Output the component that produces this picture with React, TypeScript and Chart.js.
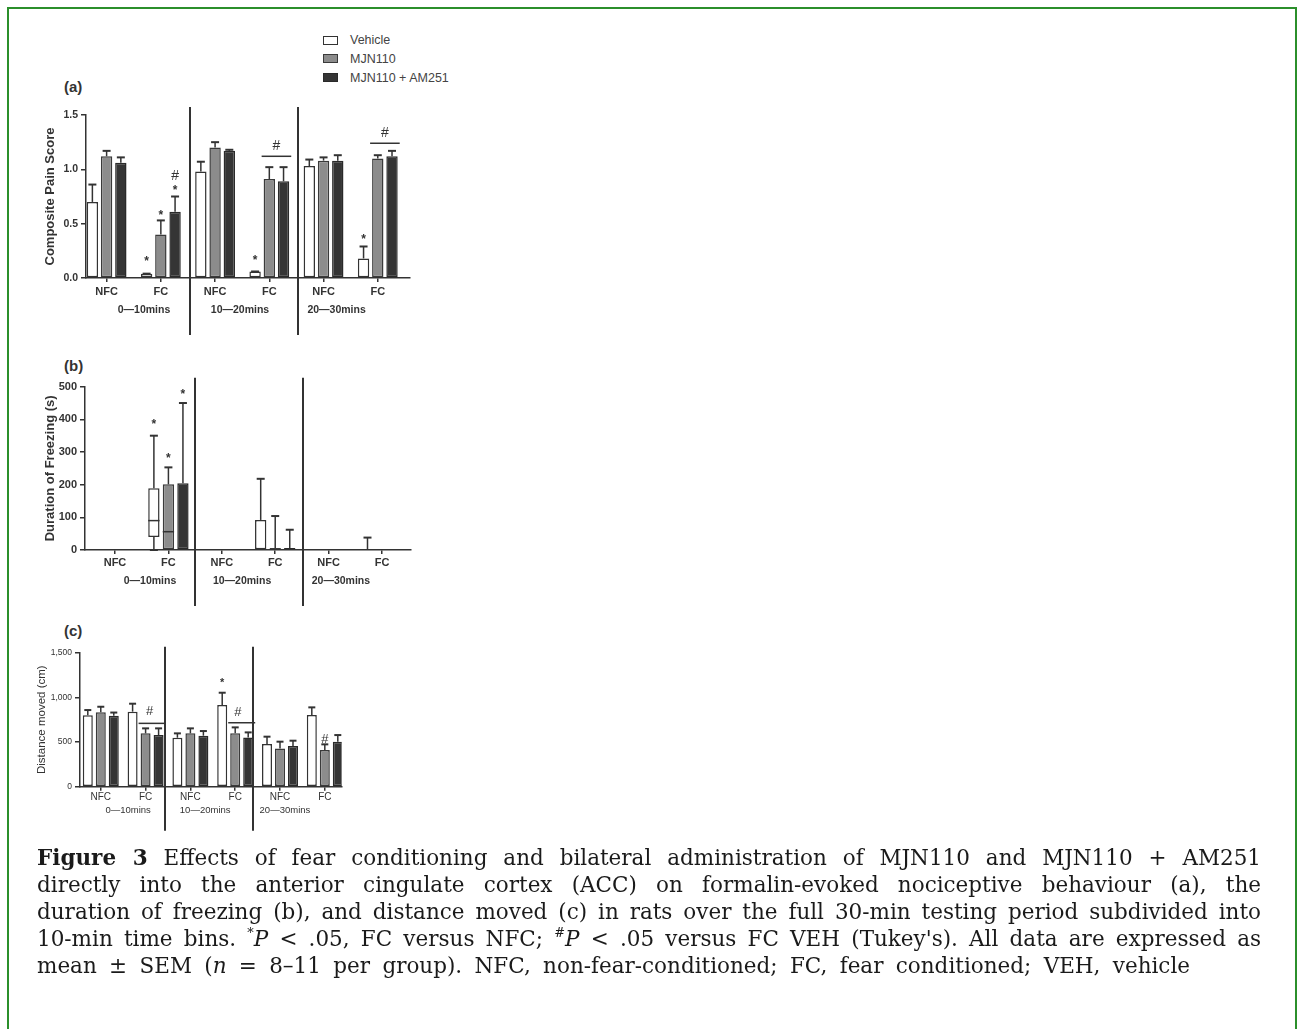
import React, { useEffect, useRef } from "react";
import { Chart, registerables } from "chart.js";

Chart.register(...registerables);

const FONT = "'Liberation Sans', Arial, Helvetica, sans-serif";
const INK = "#333333";
Chart.defaults.font.family = FONT;
Chart.defaults.color = INK;

// ---------------- data ----------------
const groupLabels = ["NFC", "FC", "NFC", "FC", "NFC", "FC"];
const timeBins = ["0\u201410mins", "10\u201420mins", "20\u201430mins"];
const seriesNames = ["Vehicle", "MJN110", "MJN110 + AM251"];
const seriesFill = ["#ffffff", "#8c8c8c", "#353535"];
const seriesBorder = ["#333333", "#3a3a3a", "#2a2a2a"];

// (a) Composite pain score, mean and SEM
const painVehicle = [0.7, 0.04, 0.98, 0.06, 1.03, 0.18];
const painVehicleSem = [0.16, 0, 0.09, 0, 0.06, 0.11];
const painMJN = [1.12, 0.4, 1.2, 0.91, 1.08, 1.1];
const painMJNSem = [0.05, 0.13, 0.05, 0.11, 0.03, 0.03];
const painAM = [1.06, 0.61, 1.17, 0.89, 1.08, 1.12];
const painAMSem = [0.05, 0.14, 0.01, 0.13, 0.05, 0.05];

// (b) Duration of freezing (s): box low / median / box high / whisker max / whisker min
const freezeVehLow = [null, 40, null, 0, null, null];
const freezeVehMed = [null, 90, null, null, null, null];
const freezeVehHigh = [null, 189, null, 92, null, null];
const freezeVehMax = [null, 350, null, 218, null, 38];
const freezeVehMin = [null, 0, null, null, null, null];
const freezeMJNLow = [null, 0, null, 0, null, null];
const freezeMJNMed = [null, 56, null, null, null, null];
const freezeMJNHigh = [null, 201, null, 6, null, null];
const freezeMJNMax = [null, 253, null, 104, null, null];
const freezeAMLow = [null, 0, null, 0, null, null];
const freezeAMHigh = [null, 204, null, 6, null, null];
const freezeAMMax = [null, 450, null, 62, null, null];

// (c) Distance moved (cm), mean and SEM
const distVehicle = [800, 840, 548, 914, 478, 802];
const distVehicleSem = [58, 89, 49, 138, 82, 86];
const distMJN = [832, 597, 597, 597, 429, 410];
const distMJNSem = [63, 56, 56, 67, 75, 64];
const distAM = [795, 578, 571, 552, 455, 504];
const distAMSem = [35, 75, 52, 56, 60, 74];

// significance marks: series (fractional = between bars), group, value, text
const painMarks = [
  { s: 0, g: 1, y: 0.17, t: "*" },
  { s: 1, g: 1, y: 0.6, t: "*" },
  { s: 2, g: 1, y: 0.83, t: "*" },
  { s: 2, g: 1, y: 0.94, t: "#" },
  { s: 0, g: 3, y: 0.18, t: "*" },
  { s: 1.5, g: 3, y: 1.21, t: "#" },
  { s: 0, g: 5, y: 0.38, t: "*" },
  { s: 1.5, g: 5, y: 1.33, t: "#" },
];
const painLines = [
  { g: 3, y: 1.12 },
  { g: 5, y: 1.24 },
];
const freezeMarks = [
  { s: 0, g: 1, y: 393, t: "*" },
  { s: 1, g: 1, y: 288, t: "*" },
  { s: 2, g: 1, y: 485, t: "*" },
];
const distMarks = [
  { s: 1.3, g: 1, y: 840, t: "#" },
  { s: 0, g: 3, y: 1183, t: "*" },
  { s: 1.2, g: 3, y: 832, t: "#" },
  { s: 1, g: 5, y: 534, t: "#" },
];
const distLines = [
  { g: 1, y: 709 },
  { g: 3, y: 716 },
];

// ---------------- helpers ----------------
type Pair = [number, number] | null;
const errPairs = (m: (number | null)[], e: (number | null)[]): Pair[] =>
  m.map((v, i) => (v == null || e[i] == null ? null : [v, v + (e[i] as number)]));
const boxPairs = (lo: (number | null)[], hi: (number | null)[]) =>
  lo.map((v, i) => (v == null || hi[i] == null ? null : [v, hi[i]]));
const upperWhisk = (hi: (number | null)[], mx: (number | null)[]): Pair[] =>
  mx.map((v, i) => (v == null ? null : [hi[i] == null ? 0 : (hi[i] as number), v]));
const lowerWhisk = (lo: (number | null)[], mn: (number | null)[]): Pair[] =>
  mn.map((v, i) => (v == null || lo[i] == null || (lo[i] as number) <= v ? null : [lo[i] as number, v]));

interface PanelSpec {
  key: string;
  canvasTop: number;
  canvasHeight: number;
  canvasWidth: number;
  area: { left: number; right: number; top: number; bottom: number };
  axisBoxLeft: number;
  xRange: [number, number];
  yRange: [number, number];
  yStep: number;
  yFormat: (v: number) => string;
  yTitle: string;
  yTitleFont: any;
  yTickFont: any;
  xTickFont: any;
  timeFont: any;
  xAxisHeight: number;
  xTickPad: number;
  catPct: number;
  barPct: number;
  values: any[][];
  whiskers: { s: number; list: Pair[] }[];
  medians: (number | null)[][];
  dividers: number[];
  dividerTop: number;
  dividerBottom: number;
  timeX: number[];
  timeDy: number;
  marks: { s: number; g: number; y: number; t: string }[];
  lines: { g: number; y: number }[];
  starSize: number;
  hashSize: number;
  capHalf: number;
}

const panelA: PanelSpec = {
  key: "a",
  canvasTop: 25,
  canvasHeight: 320,
  canvasWidth: 470,
  area: { left: 86, right: 410, top: 115, bottom: 278 },
  axisBoxLeft: 42.5,
  xRange: [-0.38, 5.594],
  yRange: [0, 1.5],
  yStep: 0.5,
  yFormat: (v) => Number(v).toFixed(1),
  yTitle: "Composite Pain Score",
  yTitleFont: { size: 13, weight: "bold" },
  yTickFont: { size: 10.5, weight: "bold" },
  xTickFont: { size: 11, weight: "bold" },
  timeFont: { size: 10.5, weight: "bold" },
  xAxisHeight: 40,
  xTickPad: 3,
  catPct: 0.787,
  barPct: 0.8,
  values: [painVehicle, painMJN, painAM],
  whiskers: [
    { s: 0, list: errPairs(painVehicle, painVehicleSem) },
    { s: 1, list: errPairs(painMJN, painMJNSem) },
    { s: 2, list: errPairs(painAM, painAMSem) },
  ],
  medians: [],
  dividers: [1.53, 3.53],
  dividerTop: -8,
  dividerBottom: 57,
  timeX: [0.69, 2.46, 4.24],
  timeDy: 32,
  marks: painMarks,
  lines: painLines,
  starSize: 12,
  hashSize: 14,
  capHalf: 4,
};

const panelB: PanelSpec = {
  key: "b",
  canvasTop: 345,
  canvasHeight: 270,
  canvasWidth: 470,
  area: { left: 85, right: 410.7, top: 386.7, bottom: 550 },
  axisBoxLeft: 42.5,
  xRange: [-0.562, 5.537],
  yRange: [0, 500],
  yStep: 100,
  yFormat: (v) => String(v),
  yTitle: "Duration of Freezing (s)",
  yTitleFont: { size: 13, weight: "bold" },
  yTickFont: { size: 11, weight: "bold" },
  xTickFont: { size: 11, weight: "bold" },
  timeFont: { size: 10.5, weight: "bold" },
  xAxisHeight: 40,
  xTickPad: 2,
  catPct: 0.816,
  barPct: 0.78,
  values: [
    boxPairs(freezeVehLow, freezeVehHigh),
    boxPairs(freezeMJNLow, freezeMJNHigh),
    boxPairs(freezeAMLow, freezeAMHigh),
  ],
  whiskers: [
    { s: 0, list: upperWhisk(freezeVehHigh, freezeVehMax) },
    { s: 1, list: upperWhisk(freezeMJNHigh, freezeMJNMax) },
    { s: 2, list: upperWhisk(freezeAMHigh, freezeAMMax) },
    { s: 0, list: lowerWhisk(freezeVehLow, freezeVehMin) },
  ],
  medians: [freezeVehMed, freezeMJNMed],
  dividers: [1.5, 3.52],
  dividerTop: -9,
  dividerBottom: 56,
  timeX: [0.655, 2.38, 4.23],
  timeDy: 31,
  marks: freezeMarks,
  lines: [],
  starSize: 12,
  hashSize: 14,
  capHalf: 4,
};

const panelC: PanelSpec = {
  key: "c",
  canvasTop: 615,
  canvasHeight: 230,
  canvasWidth: 470,
  area: { left: 80, right: 341.7, top: 652.7, bottom: 786.7 },
  axisBoxLeft: 35.2,
  xRange: [-0.464, 5.377],
  yRange: [0, 1500],
  yStep: 500,
  yFormat: (v) => Number(v).toLocaleString("en-US"),
  yTitle: "Distance moved (cm)",
  yTitleFont: { size: 11.5, weight: "normal" },
  yTickFont: { size: 8.5, weight: "normal" },
  xTickFont: { size: 10, weight: "normal" },
  timeFont: { size: 9.5, weight: "normal" },
  xAxisHeight: 30,
  xTickPad: 1,
  catPct: 0.87,
  barPct: 0.77,
  values: [distVehicle, distMJN, distAM],
  whiskers: [
    { s: 0, list: errPairs(distVehicle, distVehicleSem) },
    { s: 1, list: errPairs(distMJN, distMJNSem) },
    { s: 2, list: errPairs(distAM, distAMSem) },
  ],
  medians: [],
  dividers: [1.433, 3.404],
  dividerTop: -6,
  dividerBottom: 44,
  timeX: [0.61, 2.33, 4.11],
  timeDy: 24,
  marks: distMarks,
  lines: distLines,
  starSize: 11,
  hashSize: 13,
  capHalf: 3.5,
};

function makePlugin(spec: PanelSpec) {
  return {
    id: "annot_" + spec.key,
    afterDatasetsDraw(chart: any) {
      const { ctx, chartArea: a } = chart;
      const xs = chart.scales.x;
      const ys = chart.scales.y;
      const el = (s: number, g: number) => chart.getDatasetMeta(s).data[g];
      const seg = (x1: number, y1: number, x2: number, y2: number) => {
        ctx.beginPath();
        ctx.moveTo(x1, y1);
        ctx.lineTo(x2, y2);
        ctx.stroke();
      };
      ctx.save();
      ctx.strokeStyle = INK;
      ctx.fillStyle = INK;
      // whiskers / error bars
      spec.whiskers.forEach(({ s, list }) => {
        list.forEach((w, g) => {
          if (!w) return;
          const x = el(s, g).x;
          const y0 = ys.getPixelForValue(w[0]);
          const y1 = ys.getPixelForValue(w[1]);
          ctx.lineWidth = 1.5;
          seg(x, y0, x, y1);
          ctx.lineWidth = 2;
          seg(x - spec.capHalf, y1, x + spec.capHalf, y1);
        });
      });
      // medians
      spec.medians.forEach((list, s) => {
        list.forEach((m, g) => {
          if (m == null) return;
          const e = el(s, g);
          const y = ys.getPixelForValue(m);
          ctx.lineWidth = 1.5;
          seg(e.x - e.width / 2, y, e.x + e.width / 2, y);
        });
      });
      // significance lines
      spec.lines.forEach((l) => {
        const e1 = el(1, l.g);
        const e2 = el(2, l.g);
        const y = ys.getPixelForValue(l.y);
        ctx.lineWidth = 1.5;
        seg(e1.x - e1.width / 2 - 2, y, e2.x + e2.width / 2 + 2, y);
      });
      // marks
      ctx.textAlign = "center";
      ctx.textBaseline = "middle";
      spec.marks.forEach((m) => {
        const lo = Math.floor(m.s);
        const hi = Math.ceil(m.s);
        const x = el(lo, m.g).x + (el(hi, m.g).x - el(lo, m.g).x) * (m.s - lo);
        const y = ys.getPixelForValue(m.y);
        if (m.t === "*") {
          ctx.font = `bold ${spec.starSize}px ${FONT}`;
          ctx.fillText(m.t, x, y + spec.starSize * 0.22);
        } else {
          ctx.font = `${spec.hashSize}px ${FONT}`;
          ctx.fillText(m.t, x, y);
        }
      });
      // dividers
      ctx.lineWidth = 2;
      spec.dividers.forEach((d) => {
        const x = Math.round(xs.getPixelForValue(d));
        seg(x, a.top + spec.dividerTop, x, a.bottom + spec.dividerBottom);
      });
      // time-bin labels
      ctx.font = `${spec.timeFont.weight} ${spec.timeFont.size}px ${FONT}`;
      timeBins.forEach((t, i) => {
        ctx.fillText(t, xs.getPixelForValue(spec.timeX[i]), a.bottom + spec.timeDy);
      });
      ctx.restore();
    },
  };
}

function buildConfig(spec: PanelSpec): any {
  const a = spec.area;
  const axisGrid = {
    display: true,
    drawOnChartArea: false,
    drawTicks: true,
    offset: false,
    color: INK,
    lineWidth: 1.5,
  };
  return {
    type: "bar",
    data: {
      datasets: spec.values.map((vals, s) => ({
        label: seriesNames[s],
        data: vals.map((v, g) => ({ x: g, y: v })),
        backgroundColor: seriesFill[s],
        borderColor: seriesBorder[s],
        borderWidth: 1.5,
        borderSkipped: false,
        categoryPercentage: spec.catPct,
        barPercentage: spec.barPct,
      })),
    },
    options: {
      animation: false,
      responsive: false,
      maintainAspectRatio: false,
      events: [],
      layout: {
        padding: {
          left: spec.axisBoxLeft,
          top: a.top - spec.canvasTop,
          right: spec.canvasWidth - a.right,
          bottom: spec.canvasTop + spec.canvasHeight - a.bottom - spec.xAxisHeight,
        },
      },
      plugins: { legend: { display: false }, tooltip: { enabled: false }, title: { display: false } },
      scales: {
        x: {
          type: "linear",
          position: "bottom",
          min: spec.xRange[0],
          max: spec.xRange[1],
          offset: false,
          afterFit: (s: any) => {
            s.height = spec.xAxisHeight;
          },
          ticks: {
            stepSize: 1,
            includeBounds: false,
            autoSkip: false,
            maxRotation: 0,
            minRotation: 0,
            padding: spec.xTickPad,
            font: spec.xTickFont,
            color: INK,
            callback: (v: number) => groupLabels[Math.round(v)] ?? "",
          },
          grid: { ...axisGrid, tickLength: 4 },
          border: { display: true, color: INK, width: 1.5 },
        },
        y: {
          type: "linear",
          position: "left",
          min: spec.yRange[0],
          max: spec.yRange[1],
          afterFit: (s: any) => {
            s.width = a.left - spec.axisBoxLeft;
          },
          ticks: { stepSize: spec.yStep, padding: 3, font: spec.yTickFont, color: INK, callback: spec.yFormat },
          grid: { ...axisGrid, tickLength: 5 },
          border: { display: true, color: INK, width: 1.5 },
          title: { display: true, text: spec.yTitle, font: spec.yTitleFont, color: INK, padding: 0 },
        },
      },
    },
    plugins: [makePlugin(spec)],
  };
}

function Panel({ spec }: { spec: PanelSpec }) {
  const ref = useRef<HTMLCanvasElement>(null);
  useEffect(() => {
    if (!ref.current) return;
    const chart = new Chart(ref.current, buildConfig(spec));
    return () => chart.destroy();
  }, [spec]);
  return (
    <canvas
      ref={ref}
      width={spec.canvasWidth}
      height={spec.canvasHeight}
      style={{ position: "absolute", left: 0, top: spec.canvasTop, width: spec.canvasWidth, height: spec.canvasHeight }}
    />
  );
}

const legendRows = [40, 58.5, 77.5];
const panelLabels = [
  { t: "(a)", y: 87 },
  { t: "(b)", y: 366 },
  { t: "(c)", y: 631 },
];

const capLine: React.CSSProperties = { textAlign: "justify", textAlignLast: "justify" as any, height: 27 };
const supStyle: React.CSSProperties = { fontSize: "0.6em", lineHeight: 0, verticalAlign: "0.7em" };

export default function App() {
  return (
    <div
      style={{
        position: "absolute",
        left: 0,
        top: 0,
        width: 1297,
        height: 1029,
        overflow: "hidden",
        background: "#ffffff",
      }}
    >
      <div
        style={{
          position: "absolute",
          left: 7,
          top: 7,
          width: 1290,
          height: 1040,
          border: "2px solid #2b8f2b",
          boxSizing: "border-box",
        }}
      />
      {seriesNames.map((n, i) => (
        <React.Fragment key={n}>
          <div
            style={{
              position: "absolute",
              left: 323,
              top: legendRows[i] - 4.5,
              width: 15,
              height: 9,
              boxSizing: "border-box",
              background: seriesFill[i],
              border: `1.5px solid ${seriesBorder[i]}`,
            }}
          />
          <div
            style={{
              position: "absolute",
              left: 350,
              top: legendRows[i] - 8,
              height: 16,
              lineHeight: "16px",
              fontFamily: FONT,
              fontSize: 12.5,
              color: "#444",
              whiteSpace: "nowrap",
            }}
          >
            {n}
          </div>
        </React.Fragment>
      ))}
      {panelLabels.map((p) => (
        <div
          key={p.t}
          style={{
            position: "absolute",
            left: 64,
            top: p.y - 9,
            height: 18,
            lineHeight: "18px",
            fontFamily: FONT,
            fontWeight: "bold",
            fontSize: 15,
            color: INK,
          }}
        >
          {p.t}
        </div>
      ))}
      <Panel spec={panelA} />
      <Panel spec={panelB} />
      <Panel spec={panelC} />
      <div
        style={{
          position: "absolute",
          left: 37,
          top: 844,
          width: 1224,
          fontFamily: "'DejaVu Serif', Georgia, serif",
          fontSize: 21.5,
          lineHeight: "27px",
          color: "#1a1a1a",
        }}
      >
        <div style={capLine}>
          <b>Figure 3</b> Effects of fear conditioning and bilateral administration of MJN110 and MJN110 + AM251
        </div>
        <div style={capLine}>
          directly into the anterior cingulate cortex (ACC) on formalin-evoked nociceptive behaviour (a), the
        </div>
        <div style={capLine}>
          duration of freezing (b), and distance moved (c) in rats over the full 30-min testing period subdivided into
        </div>
        <div style={capLine}>
          10-min time bins. <sup style={supStyle}>*</sup>
          <i>P</i> &lt; .05, FC versus NFC; <sup style={supStyle}>#</sup>
          <i>P</i> &lt; .05 versus FC VEH (Tukey's). All data are expressed as
        </div>
        <div style={{ height: 27, whiteSpace: "nowrap", wordSpacing: "5.5px" }}>
          mean ± SEM (<i>n</i> = 8–11 per group). NFC, non-fear-conditioned; FC, fear conditioned; VEH, vehicle
        </div>
      </div>
    </div>
  );
}
